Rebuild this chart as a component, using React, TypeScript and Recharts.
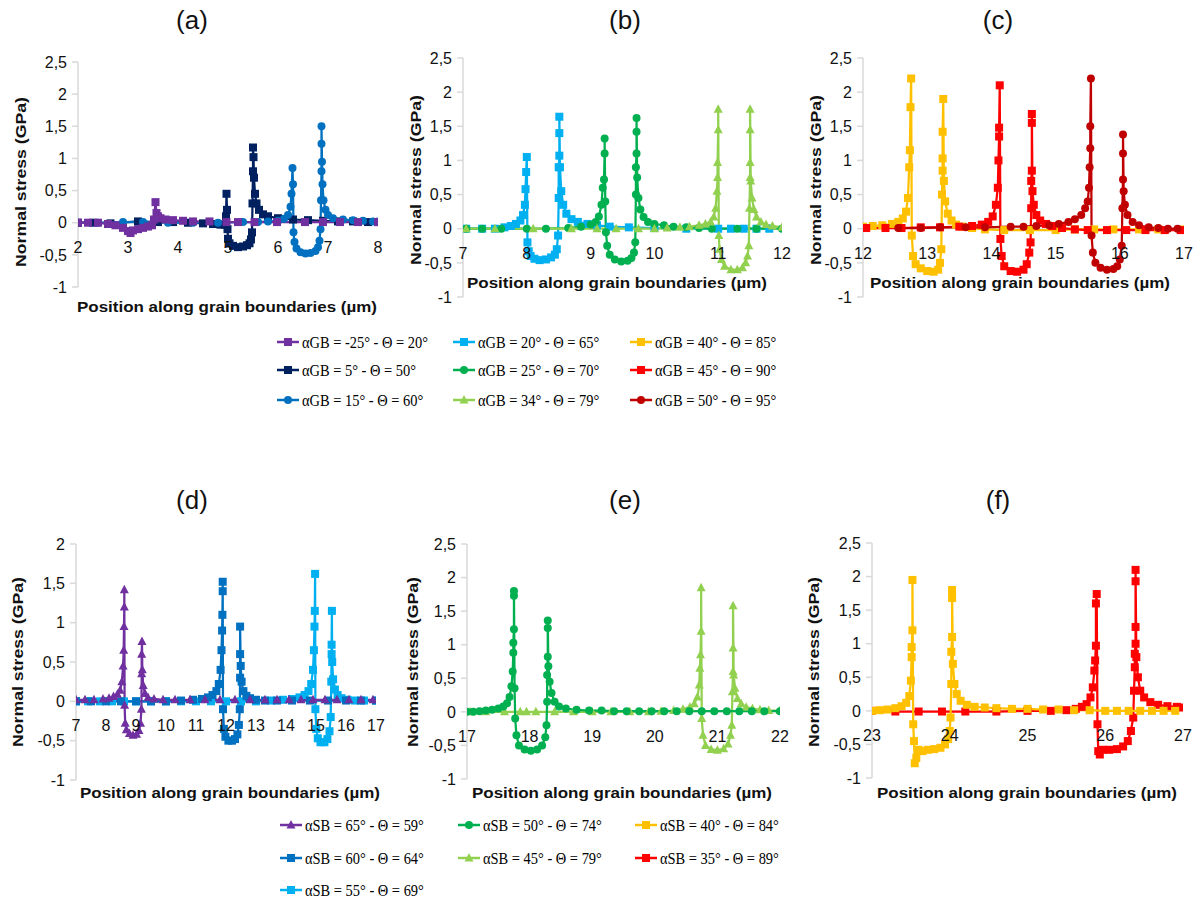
import React from "react";
import { LineChart, Line, XAxis, YAxis, ReferenceLine } from "recharts";

type Pt = [number, number];
type Shape = "square" | "circle" | "triangle";

const FONT = "'Liberation Sans', Arial, sans-serif";
const SERIF = "'Liberation Serif', 'Times New Roman', serif";

const PURPLE = "#7030A0";
const NAVY = "#002060";
const BLUE = "#0070C0";
const LIGHT_BLUE = "#00B0F0";
const GREEN = "#00B050";
const LIGHT_GREEN = "#92D050";
const YELLOW = "#FFC000";
const RED = "#FF0000";
const DARK_RED = "#C00000";

// ---- panel (a) ----
const aPurple: Pt[] = [[2.0,0],[2.2,0],[2.4,0],[2.6,-0.02],[2.75,-0.04],[2.9,-0.08],[3.0,-0.13],[3.05,-0.16],[3.1,-0.12],[3.2,-0.1],[3.3,-0.08],[3.4,-0.06],[3.48,-0.04],[3.52,0.05],[3.55,0.32],[3.57,0.15],[3.6,0.1],[3.65,0.07],[3.75,0.05],[3.9,0.04],[4.1,0.03],[4.3,0.02],[4.63,0.02],[4.97,0.01],[5.2,0.01],[5.53,0.01],[5.98,0.01],[6.54,0.01],[6.9,0.01],[7.24,0.01],[7.6,0.01],[8.0,0.01]];
const aNavy: Pt[] = [[2.0,0],[2.3,0],[2.65,-0.01],[3.2,0.02],[3.6,0.01],[3.9,0.01],[4.2,0],[4.5,-0.01],[4.7,-0.02],[4.85,-0.03],[4.93,-0.03],[4.96,0.1],[4.97,0.45],[4.98,0.2],[4.99,-0.1],[5.0,-0.25],[5.03,-0.32],[5.1,-0.36],[5.2,-0.38],[5.3,-0.37],[5.38,-0.35],[5.43,-0.32],[5.46,-0.26],[5.48,-0.15],[5.49,0.3],[5.5,0.8],[5.5,1.17],[5.51,1.02],[5.52,0.7],[5.54,0.45],[5.57,0.3],[5.62,0.2],[5.7,0.13],[5.8,0.1],[6.0,0.07],[6.3,0.05],[6.6,0.04],[6.9,0.03],[7.2,0.02],[7.5,0.02],[7.8,0.01],[8.0,0.01]];
const aBlue: Pt[] = [[2.0,0],[2.4,0],[2.9,0.01],[3.3,0.01],[3.8,0],[4.3,0],[4.8,0],[5.3,0.01],[5.6,0.01],[5.8,0.02],[6.0,0.03],[6.12,0.06],[6.2,0.12],[6.25,0.25],[6.27,0.45],[6.29,0.85],[6.3,0.6],[6.31,-0.15],[6.33,-0.3],[6.37,-0.4],[6.45,-0.46],[6.55,-0.48],[6.65,-0.47],[6.75,-0.44],[6.8,-0.38],[6.83,-0.28],[6.85,-0.1],[6.86,0.35],[6.87,0.8],[6.87,1.23],[6.87,1.5],[6.88,0.95],[6.89,0.6],[6.91,0.35],[6.95,0.2],[7.0,0.12],[7.1,0.07],[7.3,0.05],[7.5,0.04],[7.7,0.03],[7.9,0.02],[8.0,0.02]];

// ---- panel (b) ----
const bLightBlue: Pt[] = [[7.05,0],[7.3,0],[7.5,0],[7.65,0.02],[7.75,0.04],[7.83,0.07],[7.9,0.12],[7.94,0.2],[7.97,0.35],[7.98,0.58],[7.99,0.83],[8.0,1.05],[8.01,-0.2],[8.03,-0.33],[8.06,-0.4],[8.12,-0.44],[8.2,-0.46],[8.3,-0.45],[8.38,-0.42],[8.44,-0.38],[8.47,-0.3],[8.49,-0.1],[8.5,0.45],[8.5,0.9],[8.51,1.07],[8.51,1.4],[8.51,1.64],[8.52,0.9],[8.54,0.55],[8.57,0.35],[8.62,0.22],[8.7,0.14],[8.8,0.1],[8.95,0.07],[9.1,0.05],[9.3,0.03],[9.6,0.02],[10.0,0.01],[10.5,0],[11.0,0],[11.2,0],[11.4,0],[11.6,0],[11.8,0]];
const bGreen: Pt[] = [[7.05,0],[7.3,0],[7.6,0],[8.0,0],[8.3,0],[8.65,0.01],[8.85,0.03],[9.0,0.06],[9.08,0.1],[9.13,0.18],[9.17,0.35],[9.19,0.6],[9.21,0.72],[9.22,1.1],[9.22,1.32],[9.23,0.4],[9.24,-0.05],[9.26,-0.25],[9.3,-0.38],[9.38,-0.45],[9.48,-0.48],[9.58,-0.47],[9.64,-0.43],[9.68,-0.35],[9.7,-0.2],[9.71,0.5],[9.71,0.9],[9.72,1.1],[9.72,1.42],[9.72,1.62],[9.73,0.75],[9.75,0.45],[9.78,0.28],[9.83,0.17],[9.9,0.1],[10.0,0.07],[10.15,0.05],[10.3,0.03],[10.5,0.02],[10.7,0.01],[10.9,0],[11.3,0],[11.6,0],[12.0,0]];
const bLightGreen: Pt[] = [[7.05,0],[7.5,0],[8.1,0],[8.7,0],[9.1,0],[9.4,0],[9.75,0],[10.0,0],[10.2,0.01],[10.4,0.02],[10.55,0.03],[10.7,0.05],[10.8,0.07],[10.88,0.1],[10.93,0.17],[10.96,0.3],[10.98,0.55],[10.99,0.75],[10.99,0.97],[11.0,1.45],[11.0,1.75],[11.01,-0.1],[11.02,-0.3],[11.05,-0.45],[11.1,-0.55],[11.2,-0.6],[11.3,-0.6],[11.38,-0.57],[11.43,-0.5],[11.46,-0.4],[11.48,-0.25],[11.49,0.3],[11.5,0.75],[11.5,0.97],[11.5,1.45],[11.5,1.75],[11.51,0.7],[11.53,0.45],[11.56,0.28],[11.6,0.17],[11.67,0.1],[11.75,0.06],[11.85,0.04],[12.0,0.02]];

// ---- panel (c) ----
const cYellow: Pt[] = [[12.0,0.03],[12.15,0.04],[12.3,0.05],[12.45,0.07],[12.55,0.1],[12.62,0.15],[12.67,0.25],[12.7,0.45],[12.72,0.9],[12.73,1.15],[12.74,1.78],[12.75,2.2],[12.76,-0.1],[12.78,-0.4],[12.82,-0.52],[12.9,-0.58],[13.0,-0.62],[13.1,-0.63],[13.17,-0.6],[13.2,-0.5],[13.22,-0.3],[13.23,0.5],[13.24,0.85],[13.24,1.03],[13.24,1.42],[13.25,1.9],[13.26,0.7],[13.28,0.4],[13.32,0.22],[13.38,0.12],[13.45,0.06],[13.55,0.03],[13.7,0.01],[13.9,-0.01],[14.2,-0.02],[14.6,-0.02],[15.0,-0.02],[15.3,-0.01],[15.6,-0.01],[15.9,-0.01],[16.3,-0.01],[16.6,-0.01],[17.0,-0.01]];
const cRed: Pt[] = [[12.05,0.01],[12.35,0.01],[12.6,0.01],[12.9,0.02],[13.2,0.02],[13.5,0.03],[13.7,0.04],[13.85,0.06],[13.95,0.1],[14.02,0.18],[14.07,0.35],[14.1,0.6],[14.11,1.0],[14.12,1.35],[14.12,1.48],[14.13,2.1],[14.14,-0.15],[14.16,-0.4],[14.2,-0.55],[14.3,-0.62],[14.4,-0.63],[14.5,-0.6],[14.55,-0.52],[14.59,-0.35],[14.61,-0.2],[14.62,0.3],[14.62,0.7],[14.63,0.85],[14.63,1.55],[14.63,1.68],[14.64,0.55],[14.66,0.35],[14.7,0.2],[14.76,0.12],[14.85,0.07],[14.95,0.04],[15.1,0.01],[15.3,-0.01],[15.5,-0.02],[15.8,-0.02],[16.1,-0.02],[16.4,-0.02],[16.7,-0.02],[16.95,-0.02]];
const cDarkRed: Pt[] = [[12.55,0.01],[12.9,0.01],[13.2,0.02],[13.6,0.02],[13.9,0.02],[14.3,0.03],[14.5,0.03],[14.7,0.04],[14.9,0.05],[15.05,0.07],[15.2,0.1],[15.3,0.14],[15.4,0.2],[15.46,0.3],[15.5,0.4],[15.52,0.6],[15.53,0.9],[15.54,1.18],[15.54,1.5],[15.55,2.2],[15.56,-0.1],[15.58,-0.35],[15.62,-0.5],[15.7,-0.57],[15.8,-0.6],[15.9,-0.59],[15.96,-0.55],[16.0,-0.45],[16.03,-0.25],[16.04,0.3],[16.05,0.72],[16.05,1.1],[16.05,1.38],[16.06,0.55],[16.08,0.35],[16.12,0.2],[16.2,0.1],[16.3,0.05],[16.45,0.02],[16.6,0.01],[16.75,0],[16.9,0]];

// ---- panel (d) ----
const dPurple: Pt[] = [[7.0,0.02],[7.3,0.02],[7.6,0.02],[7.9,0.03],[8.1,0.04],[8.25,0.06],[8.38,0.09],[8.47,0.14],[8.53,0.25],[8.57,0.45],[8.59,0.65],[8.6,0.95],[8.61,1.2],[8.61,1.42],[8.62,-0.05],[8.64,-0.28],[8.68,-0.36],[8.78,-0.41],[8.9,-0.43],[9.02,-0.42],[9.1,-0.37],[9.15,-0.28],[9.18,-0.1],[9.19,0.35],[9.19,0.6],[9.2,0.76],[9.21,0.4],[9.24,0.2],[9.3,0.1],[9.4,0.05],[9.6,0.03],[9.9,0.02],[10.3,0.02],[10.8,0.02],[11.3,0.02],[11.8,0.02],[12.3,0.02],[12.8,0.02],[13.3,0.02],[13.7,0.02],[14.1,0.02],[14.5,0.02],[14.9,0.02],[15.3,0.02],[15.7,0.02],[16.1,0.02],[16.5,0.02],[16.9,0.02]];
const dBlue: Pt[] = [[7.0,0],[7.5,0],[8.0,0],[8.5,0],[9.0,0],[9.5,0],[10.0,0],[10.5,0.01],[10.9,0.02],[11.2,0.03],[11.4,0.05],[11.55,0.08],[11.68,0.13],[11.76,0.22],[11.82,0.4],[11.85,0.65],[11.87,0.9],[11.88,1.1],[11.89,1.4],[11.89,1.52],[11.9,-0.1],[11.93,-0.35],[11.98,-0.45],[12.08,-0.5],[12.2,-0.5],[12.3,-0.48],[12.38,-0.42],[12.43,-0.3],[12.46,-0.1],[12.47,0.3],[12.47,0.6],[12.47,0.95],[12.49,0.45],[12.52,0.25],[12.58,0.13],[12.68,0.07],[12.8,0.04],[13.0,0.02],[13.3,0.01],[13.7,0.01],[14.2,0.01],[14.8,0.01],[15.4,0.01],[16.0,0.01],[16.5,0.01],[17.0,0.01]];
const dLightBlue: Pt[] = [[7.0,0],[7.4,0],[7.8,0],[8.2,0],[8.6,0],[9.0,0],[9.5,0],[10.0,0],[10.5,0],[11.0,0],[11.5,0],[12.0,0],[12.5,0],[13.0,0],[13.5,0.01],[13.9,0.02],[14.2,0.03],[14.45,0.05],[14.62,0.08],[14.75,0.13],[14.84,0.22],[14.9,0.4],[14.93,0.65],[14.95,0.95],[14.96,1.15],[14.97,1.62],[14.98,-0.1],[15.01,-0.35],[15.06,-0.47],[15.15,-0.52],[15.28,-0.52],[15.38,-0.48],[15.45,-0.38],[15.49,-0.2],[15.51,0.25],[15.52,0.6],[15.52,0.72],[15.53,1.15],[15.54,0.5],[15.57,0.28],[15.63,0.15],[15.72,0.08],[15.85,0.04],[16.05,0.02],[16.3,0.01],[16.6,0.01],[17.0,0.01]];

// ---- panel (e) ----
const eGreen: Pt[] = [[17.0,0],[17.1,0],[17.2,0.01],[17.3,0.02],[17.4,0.03],[17.5,0.05],[17.58,0.08],[17.64,0.13],[17.68,0.22],[17.71,0.38],[17.73,0.6],[17.74,0.88],[17.74,1.03],[17.75,1.23],[17.75,1.73],[17.75,1.8],[17.76,0.35],[17.77,-0.1],[17.79,-0.35],[17.83,-0.5],[17.92,-0.56],[18.02,-0.58],[18.12,-0.56],[18.2,-0.5],[18.25,-0.38],[18.27,-0.2],[18.28,0.15],[18.28,0.55],[18.29,0.82],[18.29,1.25],[18.29,1.36],[18.3,0.68],[18.32,0.45],[18.35,0.28],[18.4,0.15],[18.47,0.08],[18.58,0.05],[18.75,0.03],[18.95,0.02],[19.15,0.02],[19.35,0.01],[19.55,0.01],[19.75,0.01],[19.95,0.01],[20.15,0.01],[20.35,0.01],[20.55,0.01],[20.75,0.01],[20.95,0.01],[21.15,0.01],[21.35,0.01],[21.55,0.01],[21.75,0.01],[22.0,0.01]];
const eLightGreen: Pt[] = [[17.05,0],[17.3,0],[17.6,0],[17.85,0],[17.95,0],[18.1,0],[18.4,0],[18.7,0],[19.0,0],[19.3,0],[19.6,0],[19.9,0],[20.1,0.01],[20.3,0.02],[20.45,0.04],[20.56,0.07],[20.63,0.12],[20.68,0.22],[20.71,0.4],[20.72,0.65],[20.73,0.85],[20.74,1.2],[20.74,1.85],[20.75,-0.1],[20.77,-0.35],[20.81,-0.5],[20.9,-0.56],[21.0,-0.57],[21.1,-0.55],[21.17,-0.48],[21.21,-0.35],[21.23,-0.2],[21.24,0.3],[21.25,0.6],[21.25,0.95],[21.25,1.58],[21.26,0.55],[21.28,0.35],[21.32,0.2],[21.38,0.12],[21.46,0.07],[21.56,0.05],[21.68,0.03],[21.82,0.02],[22.0,0.02]];

// ---- panel (f) ----
const fYellow: Pt[] = [[23.0,0],[23.1,0.01],[23.2,0.02],[23.3,0.04],[23.38,0.07],[23.44,0.12],[23.48,0.22],[23.5,0.45],[23.51,0.8],[23.51,0.95],[23.52,1.2],[23.52,1.95],[23.53,-0.2],[23.54,-0.45],[23.55,-0.78],[23.57,-0.7],[23.6,-0.58],[23.65,-0.6],[23.72,-0.58],[23.8,-0.57],[23.88,-0.55],[23.94,-0.5],[23.98,-0.42],[24.0,-0.3],[24.01,-0.1],[24.02,0.4],[24.02,0.88],[24.03,1.1],[24.03,1.68],[24.03,1.8],[24.04,0.7],[24.06,0.4],[24.09,0.25],[24.14,0.15],[24.22,0.09],[24.32,0.06],[24.45,0.05],[24.6,0.04],[24.8,0.03],[25.0,0.03],[25.2,0.02],[25.4,0.02],[25.6,0.01],[25.8,0.01],[26.0,0],[26.15,0],[26.3,0],[26.45,0],[26.6,0],[26.75,0],[26.9,0]];
const fRed: Pt[] = [[23.0,0],[23.3,-0.01],[23.6,-0.01],[23.9,-0.01],[24.2,-0.01],[24.6,-0.01],[25.0,0],[25.3,0],[25.5,0.01],[25.62,0.03],[25.7,0.06],[25.76,0.1],[25.81,0.2],[25.84,0.35],[25.86,0.6],[25.87,0.75],[25.88,0.97],[25.88,1.6],[25.89,1.74],[25.9,-0.2],[25.91,-0.6],[25.93,-0.65],[25.97,-0.58],[26.05,-0.58],[26.15,-0.57],[26.23,-0.53],[26.29,-0.45],[26.33,-0.3],[26.36,-0.1],[26.37,0.3],[26.38,0.65],[26.38,0.85],[26.39,1.0],[26.39,1.25],[26.39,1.93],[26.39,2.1],[26.4,0.8],[26.42,0.5],[26.45,0.3],[26.5,0.2],[26.58,0.13],[26.68,0.09],[26.8,0.07],[26.92,0.06],[27.0,0.05]];

const gbLabels = ["αGB = -25° - Θ = 20°", "αGB = 5° - Θ = 50°", "αGB = 15° - Θ = 60°", "αGB = 20° - Θ = 65°", "αGB = 25° - Θ = 70°", "αGB = 34° - Θ = 79°", "αGB = 40° - Θ = 85°", "αGB = 45° - Θ = 90°", "αGB = 50° - Θ = 95°"];
const sbLabels = ["αSB = 65° - Θ = 59°", "αSB = 60° - Θ = 64°", "αSB = 55° - Θ = 69°", "αSB = 50° - Θ = 74°", "αSB = 45° - Θ = 79°", "αSB = 40° - Θ = 84°", "αSB = 35° - Θ = 89°"];
const gbStyles: { color: string; shape: Shape }[] = [
  { color: PURPLE, shape: "square" }, { color: NAVY, shape: "square" }, { color: BLUE, shape: "circle" },
  { color: LIGHT_BLUE, shape: "square" }, { color: GREEN, shape: "circle" }, { color: LIGHT_GREEN, shape: "triangle" },
  { color: YELLOW, shape: "square" }, { color: RED, shape: "square" }, { color: DARK_RED, shape: "circle" },
];
const sbStyles: { color: string; shape: Shape }[] = [
  { color: PURPLE, shape: "triangle" }, { color: BLUE, shape: "square" }, { color: LIGHT_BLUE, shape: "square" },
  { color: GREEN, shape: "circle" }, { color: LIGHT_GREEN, shape: "triangle" },
  { color: YELLOW, shape: "square" }, { color: RED, shape: "square" },
];
// [column, row] of each legend entry
const gbSlots: [number, number][] = [[0, 0], [0, 1], [0, 2], [1, 0], [1, 1], [1, 2], [2, 0], [2, 1], [2, 2]];
const sbSlots: [number, number][] = [[0, 0], [0, 1], [0, 2], [1, 0], [1, 1], [2, 0], [2, 1]];

const ticksX = (from: number, to: number) => {
  const t: number[] = [];
  for (let v = from; v <= to; v++) t.push(v);
  return t;
};
const ticksY25 = [-1, -0.5, 0, 0.5, 1, 1.5, 2, 2.5];
const ticksY2 = [-1, -0.5, 0, 0.5, 1, 1.5, 2];

const Marker = ({ cx, cy, color, shape }: { cx: number; cy: number; color: string; shape: Shape }) => {
  if (cx == null || cy == null) return null;
  if (shape === "circle") return <circle cx={cx} cy={cy} r={4} fill={color} />;
  if (shape === "triangle")
    return <polygon points={`${cx},${cy - 5} ${cx + 4.5},${cy + 3.5} ${cx - 4.5},${cy + 3.5}`} fill={color} />;
  return <rect x={cx - 4} y={cy - 4} width={8} height={8} fill={color} />;
};

type Series = { id: string; data: Pt[]; color: string; shape: Shape };

const Panel = ({ px, py, pw, ph, xDomain, yDomain, yTicks, series }: {
  px: number; py: number; pw: number; ph: number;
  xDomain: [number, number]; yDomain: [number, number]; yTicks: number[]; series: Series[];
}) => {
  const ML = 60, MT = 10, MR = 14, XH = 30;
  const zeroY = MT + (ph * yDomain[1]) / (yDomain[1] - yDomain[0]);
  return (
    <div style={{ position: "absolute", left: px - ML, top: py - MT }}>
      <LineChart width={ML + pw + MR} height={MT + ph + XH} margin={{ top: MT, right: MR, bottom: 0, left: 0 }}>
        <XAxis
          type="number" dataKey="x" domain={xDomain} ticks={ticksX(xDomain[0], xDomain[1])} interval={0}
          allowDataOverflow axisLine={false} tickLine={false} height={XH}
          tick={(p: any) => (
            <text key={`t${p.payload.value}`} x={p.x} y={zeroY + 30} textAnchor="middle" fontSize={16} fontFamily={FONT} fill="#111">
              {p.payload.value}
            </text>
          )}
        />
        <YAxis
          type="number" domain={yDomain} ticks={yTicks} interval={0} width={ML} allowDataOverflow
          axisLine={{ stroke: "#D9D9D9", strokeWidth: 1.5 }} tickLine={{ stroke: "#D9D9D9", strokeWidth: 1.5 }}
          tickSize={6} tickMargin={5}
          tickFormatter={(v: number) => String(v).replace(".", ",")}
          tick={{ fill: "#111", fontSize: 16, fontFamily: FONT }}
        />
        <ReferenceLine y={0} stroke="#D9D9D9" strokeWidth={1} />
        {series.map((s) => (
          <Line
            key={s.id} data={s.data.map(([x, y]) => ({ x, y }))} dataKey="y" type="linear"
            stroke={s.color} strokeWidth={2.25} isAnimationActive={false} activeDot={false}
            dot={(p: any) => <Marker key={`${s.id}-${p.index}`} cx={p.cx} cy={p.cy} color={s.color} shape={s.shape} />}
          />
        ))}
      </LineChart>
    </div>
  );
};

const LegendBlock = ({ labels, styles, slots, lineX, textX, rowY }: {
  labels: string[]; styles: { color: string; shape: Shape }[]; slots: [number, number][];
  lineX: number[]; textX: number[]; rowY: number[];
}) => (
  <g>
    {labels.map((label, i) => {
      const [col, row] = slots[i];
      const y = rowY[row];
      const st = styles[i];
      return (
        <g key={label}>
          <line x1={lineX[col]} x2={lineX[col] + 22} y1={y} y2={y} stroke={st.color} strokeWidth={2.5} />
          <Marker cx={lineX[col] + 11} cy={y} color={st.color} shape={st.shape} />
          <text transform={`translate(${textX[col]},${y}) scale(0.85,1)`} dominantBaseline="central" fontSize={17} fontFamily={SERIF} fill="#000">
            {label}
          </text>
        </g>
      );
    })}
  </g>
);

const titles = [
  { t: "(a)", x: 192, y: 20 }, { t: "(b)", x: 625, y: 20 }, { t: "(c)", x: 998, y: 20 },
  { t: "(d)", x: 192, y: 500 }, { t: "(e)", x: 625, y: 500 }, { t: "(f)", x: 998, y: 500 },
];
const xTitles = [
  { x: 227, y: 306 }, { x: 617, y: 282 }, { x: 1020, y: 282 },
  { x: 230, y: 792 }, { x: 622, y: 792 }, { x: 1027, y: 792 },
];
const yTitles = [
  { x: 20, y: 182 }, { x: 415, y: 180 }, { x: 815, y: 180 },
  { x: 17, y: 662 }, { x: 412, y: 662 }, { x: 813, y: 662 },
];

export default function App() {
  return (
    <div style={{ position: "absolute", left: 0, top: 0, width: 1201, height: 904, background: "#fff", overflow: "hidden" }}>
      <Panel px={78} py={62} pw={300} ph={225} xDomain={[2, 8]} yDomain={[-1, 2.5]} yTicks={ticksY25}
        series={[
          { id: "aN", data: aNavy, color: NAVY, shape: "square" },
          { id: "aB", data: aBlue, color: BLUE, shape: "circle" },
          { id: "aP", data: aPurple, color: PURPLE, shape: "square" },
        ]} />
      <Panel px={463} py={58} pw={319} ph={239} xDomain={[7, 12]} yDomain={[-1, 2.5]} yTicks={ticksY25}
        series={[
          { id: "bLB", data: bLightBlue, color: LIGHT_BLUE, shape: "square" },
          { id: "bG", data: bGreen, color: GREEN, shape: "circle" },
          { id: "bLG", data: bLightGreen, color: LIGHT_GREEN, shape: "triangle" },
        ]} />
      <Panel px={863} py={58} pw={321} ph={239} xDomain={[12, 17]} yDomain={[-1, 2.5]} yTicks={ticksY25}
        series={[
          { id: "cY", data: cYellow, color: YELLOW, shape: "square" },
          { id: "cR", data: cRed, color: RED, shape: "square" },
          { id: "cDR", data: cDarkRed, color: DARK_RED, shape: "circle" },
        ]} />
      <Panel px={76} py={544} pw={300} ph={236} xDomain={[7, 17]} yDomain={[-1, 2]} yTicks={ticksY2}
        series={[
          { id: "dLB", data: dLightBlue, color: LIGHT_BLUE, shape: "square" },
          { id: "dB", data: dBlue, color: BLUE, shape: "square" },
          { id: "dP", data: dPurple, color: PURPLE, shape: "triangle" },
        ]} />
      <Panel px={467} py={544} pw={313} ph={235} xDomain={[17, 22]} yDomain={[-1, 2.5]} yTicks={ticksY25}
        series={[
          { id: "eLG", data: eLightGreen, color: LIGHT_GREEN, shape: "triangle" },
          { id: "eG", data: eGreen, color: GREEN, shape: "circle" },
        ]} />
      <Panel px={872} py={543} pw={311} ph={235} xDomain={[23, 27]} yDomain={[-1, 2.5]} yTicks={ticksY25}
        series={[
          { id: "fR", data: fRed, color: RED, shape: "square" },
          { id: "fY", data: fYellow, color: YELLOW, shape: "square" },
        ]} />

      <svg width={1201} height={904} style={{ position: "absolute", left: 0, top: 0, pointerEvents: "none" }}>
        {titles.map((t) => (
          <text key={t.t} x={t.x} y={t.y} textAnchor="middle" dominantBaseline="central" fontSize={26} fontFamily={FONT} fill="#111">
            {t.t}
          </text>
        ))}
        {xTitles.map((p, i) => (
          <text key={`xt${i}`} x={p.x} y={p.y} textAnchor="middle" dominantBaseline="central" fontSize={15} fontWeight="bold"
            fontFamily={FONT} fill="#111" textLength={300} lengthAdjust="spacingAndGlyphs">
            Position along grain boundaries (µm)
          </text>
        ))}
        {yTitles.map((p, i) => (
          <text key={`yt${i}`} transform={`translate(${p.x},${p.y}) rotate(-90)`} textAnchor="middle" dominantBaseline="central"
            fontSize={15} fontWeight="bold" fontFamily={FONT} fill="#111" textLength={170} lengthAdjust="spacingAndGlyphs">
            Normal stress (GPa)
          </text>
        ))}
        <LegendBlock labels={gbLabels} styles={gbStyles} slots={gbSlots} lineX={[277, 453, 630]} textX={[302, 478, 655]} rowY={[342, 370, 400]} />
        <LegendBlock labels={sbLabels} styles={sbStyles} slots={sbSlots} lineX={[280, 458, 635]} textX={[305, 483, 660]} rowY={[825, 858, 890]} />
      </svg>
    </div>
  );
}
